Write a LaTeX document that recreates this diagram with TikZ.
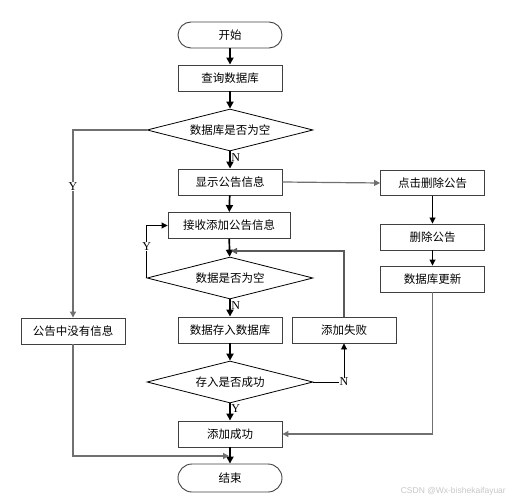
\documentclass[tikz,border=0pt]{standalone}
\usepackage{fontspec}
\newfontfamily\cjk{Noto Sans CJK SC}
\setmainfont{Liberation Serif}
\setsansfont{Liberation Sans}
\usetikzlibrary{shapes.geometric,arrows.meta}
\definecolor{bd}{HTML}{404040}
\definecolor{gl}{HTML}{707070}
\tikzset{
  box/.style={rectangle, draw=bd, line width=0.9pt, minimum width=104pt, minimum height=26pt, inner sep=1pt, font=\cjk\fontsize{11.5}{12}\selectfont},
  term/.style={box, rounded corners=13pt},
  dia/.style={diamond, draw=black, line width=0.8pt, aspect=4, minimum width=166pt, minimum height=42pt, inner sep=1pt, font=\cjk\fontsize{11.5}{12}\selectfont},
  mainarr/.style={draw=black, line width=1.7pt, -{Triangle[length=7pt,width=7pt]}},
  sidearr/.style={draw=gl, line width=1.2pt, -{Triangle[length=6pt,width=6pt]}},
  thinarr/.style={draw=black, line width=0.9pt, -{Triangle[length=6pt,width=6pt]}},
  lab/.style={font=\fontsize{12}{12}\selectfont, inner sep=0.5pt}
}
\begin{document}
\begin{tikzpicture}[x=1pt,y=-1pt]
\useasboundingbox (0,0) rectangle (510,502);
\node[term] (start) at (230,35) {开始};
\node[box] (q) at (230,78) {查询数据库};
\node[dia] (d1) at (230,130) {数据库是否为空};
\node[box] (show) at (230,182) {显示公告信息};
\node[box, minimum width=122pt] (recv) at (229,225.5) {接收添加公告信息};
\node[dia] (d2) at (230,278) {数据是否为空};
\node[box] (store) at (230,330) {数据存入数据库};
\node[box] (fail) at (344,330) {添加失败};
\node[dia] (d3) at (230,382) {存入是否成功};
\node[box] (ok) at (230,434) {添加成功};
\node[term, minimum height=28pt, rounded corners=14pt] (end) at (230,478) {结束};
\node[box] (none) at (73,331) {公告中没有信息};
\node[box, minimum height=25pt] (click) at (432.5,183) {点击删除公告};
\node[box] (del) at (432.5,237) {删除公告};
\node[box] (upd) at (432.5,279) {数据库更新};
\coordinate (jn) at (231,251);
\coordinate (jn2) at (229,456);

\draw[mainarr] (start) -- (q);
\draw[mainarr] (q) -- (d1);
\draw[mainarr] (d1) -- (show) node[lab, pos=0.35, right=0pt] {N};
\draw[mainarr] (show) -- (recv);
\draw[mainarr] (recv) -- (d2);
\draw[mainarr] (d2) -- (store) node[lab, pos=0.35, right=0pt] {N};
\draw[mainarr] (store) -- (d3);
\draw[mainarr] (d3) -- (ok) node[lab, pos=0.3, right=0pt] {Y};
\draw[mainarr] (ok) -- (end);

\draw[sidearr] (d1.west) -| node[lab, fill=white, pos=0.65] {Y} (none.north);
\draw[sidearr] (none.south) |- (jn2);
\draw[sidearr] (show.east) -- (click.west);
\draw[thinarr] (click) -- (del);
\draw[thinarr] (del) -- (upd);
\draw[sidearr] (upd.south) |- (ok.east);
\draw[thinarr] (d2.west) |- node[lab, fill=white, pos=0.3] {Y} (recv.west);
\draw[thinarr] (d3.east) -| node[lab, fill=white, pos=0.5] {N} (fail.south);
\draw[sidearr, draw=gl!80!black] (fail.north) |- (jn);

\node[font=\sffamily\fontsize{8.5}{9}\selectfont, text=black!22, anchor=east, inner sep=0pt] (wm) at (506,491) {CSDN @Wx-bishekaifayuar};
\end{tikzpicture}
\end{document}
